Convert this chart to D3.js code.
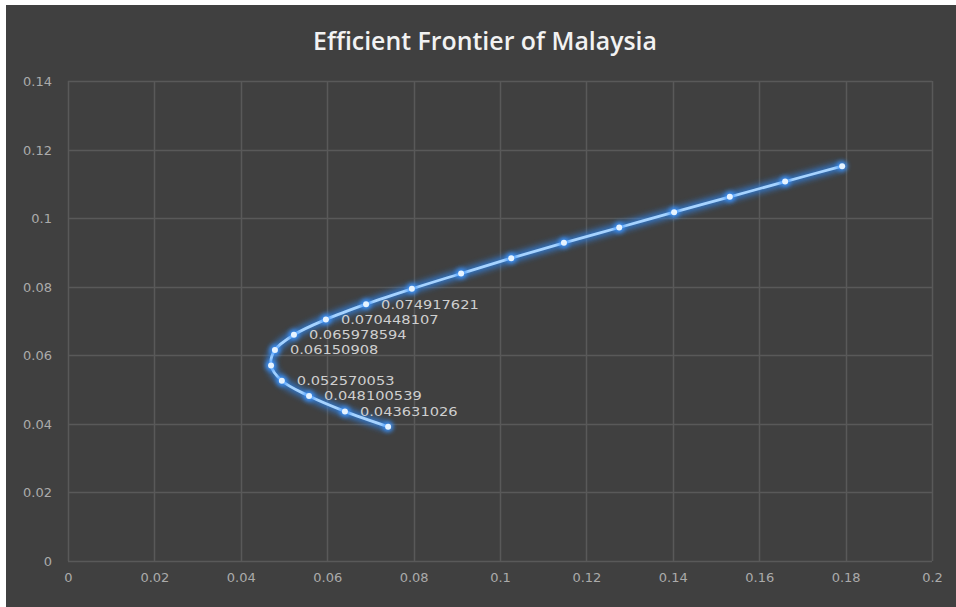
<!DOCTYPE html>
<html>
<head>
<meta charset="utf-8">
<script src="https://cdn.jsdelivr.net/npm/d3@7"></script>
<style>
  html, body { margin: 0; padding: 0; background: #ffffff; }
  svg { display: block; }
</style>
</head>
<body>
<svg id="chart" width="956" height="607"></svg>
<script>
// ---- data ----
const risk = [0.0741, 0.0641, 0.0558, 0.0495, 0.0470, 0.0479, 0.0523, 0.0597, 0.0690,
              0.0796, 0.0910, 0.1026, 0.1148, 0.1276, 0.1403, 0.1532, 0.1660, 0.1792];
const ret  = [0.039161512, 0.043631026, 0.048100539, 0.052570053, 0.057039567, 0.06150908,
              0.065978594, 0.070448107, 0.074917621, 0.079387, 0.083857, 0.088326,
              0.092796, 0.097265, 0.101735, 0.106204, 0.110674, 0.115143];
const pointLabels = [null, "0.043631026", "0.048100539", "0.052570053", null, "0.06150908",
                     "0.065978594", "0.070448107", "0.074917621",
                     null, null, null, null, null, null, null, null, null];
const xTicks = [0, 0.02, 0.04, 0.06, 0.08, 0.1, 0.12, 0.14, 0.16, 0.18, 0.2];
const yTicks = [0, 0.02, 0.04, 0.06, 0.08, 0.1, 0.12, 0.14];
const titleText = "Efficient Frontier of Malaysia";

const data = risk.map((r, i) => ({ x: r, y: ret[i], label: pointLabels[i] }));

const svg = d3.select("#chart");
const W = 956, H = 607;

// background (white border top/left like the reference)
svg.append("rect").attr("x", 0).attr("y", 0).attr("width", W).attr("height", H).attr("fill", "#ffffff");
svg.append("rect").attr("x", 6).attr("y", 5).attr("width", W - 6).attr("height", H - 5).attr("fill", "#404040");

const plot = { left: 68, right: 932, top: 81, bottom: 561 };
const x = d3.scaleLinear().domain([0, 0.2]).range([plot.left, plot.right]);
const y = d3.scaleLinear().domain([0, 0.14]).range([plot.bottom, plot.top]);

const defs = svg.append("defs");
const glow = defs.append("filter").attr("id", "glow").attr("x", "-20%").attr("y", "-20%").attr("width", "140%").attr("height", "140%");
glow.append("feGaussianBlur").attr("stdDeviation", 3);
const glowSmall = defs.append("filter").attr("id", "glowS").attr("x", "-100%").attr("y", "-100%").attr("width", "300%").attr("height", "300%");
glowSmall.append("feGaussianBlur").attr("stdDeviation", 2.2);

// gridlines
const grid = svg.append("g");
grid.selectAll("line.h").data(yTicks).join("line")
  .attr("x1", plot.left).attr("x2", plot.right)
  .attr("y1", d => Math.round(y(d)) + 0.5).attr("y2", d => Math.round(y(d)) + 0.5)
  .attr("stroke", "#595959").attr("stroke-width", 1.5);
grid.selectAll("line.v").data(xTicks).join("line")
  .attr("y1", plot.top).attr("y2", plot.bottom)
  .attr("x1", d => Math.round(x(d)) + 0.5).attr("x2", d => Math.round(x(d)) + 0.5)
  .attr("stroke", "#595959").attr("stroke-width", 1.5);

// axes (labels only, via d3 axes)
const fmt = d => d3.format("~g")(+d.toFixed(2));
const xAxis = svg.append("g").attr("transform", `translate(0,${plot.bottom + 8})`)
  .call(d3.axisBottom(x).tickValues(xTicks).tickFormat(fmt).tickSize(0).tickPadding(4));
const yAxis = svg.append("g").attr("transform", `translate(${plot.left - 16},0)`)
  .call(d3.axisLeft(y).tickValues(yTicks).tickFormat(fmt).tickSize(0).tickPadding(0));
[xAxis, yAxis].forEach(a => {
  a.select(".domain").remove();
  a.selectAll("text").attr("fill", "#ababab").style("font-family", "'DejaVu Sans', sans-serif").style("font-size", "13px");
});
yAxis.selectAll("text").attr("dy", "0.35em");

// title
svg.append("text")
  .attr("x", 485).attr("y", 50)
  .attr("text-anchor", "middle")
  .attr("fill", "#f2f2f2")
  .style("font-family", "'Open Sans', sans-serif")
  .style("font-size", "25px")
  .style("font-weight", "600")
  .attr("textLength", 344).attr("lengthAdjust", "spacingAndGlyphs")
  .text(titleText);

// line
const line = d3.line().x(d => x(d.x)).y(d => y(d.y)).curve(d3.curveCatmullRom.alpha(0.5));
svg.append("path").datum(data).attr("d", line)
  .attr("fill", "none").attr("stroke", "#2e86f0").attr("stroke-width", 8).attr("opacity", 0.8)
  .attr("filter", "url(#glow)");
svg.append("path").datum(data).attr("d", line)
  .attr("fill", "none").attr("stroke", "#a6d3ff").attr("stroke-width", 2.8);

// markers
svg.append("g").selectAll("circle").data(data).join("circle")
  .attr("cx", d => x(d.x)).attr("cy", d => y(d.y)).attr("r", 5.5)
  .attr("fill", "#3d95ff").attr("opacity", 0.85).attr("filter", "url(#glowS)");
svg.append("g").selectAll("circle").data(data).join("circle")
  .attr("cx", d => x(d.x)).attr("cy", d => y(d.y)).attr("r", 3)
  .attr("fill", "#e6f3ff");

// data labels (slightly condensed height, wide digits as in the reference)
svg.append("g").selectAll("text").data(data.filter(d => d.label)).join("text")
  .attr("x", d => x(d.x) + 15).attr("y", d => y(d.y))
  .attr("dy", "0.35em")
  .attr("fill", "#cfcfcf")
  .style("font-family", "'DejaVu Sans', sans-serif")
  .style("font-size", "12.5px")
  .each(function (d) {
    const t = d3.select(this).text(d.label);
    const w = this.getComputedTextLength();
    t.attr("textLength", w * 1.17).attr("lengthAdjust", "spacingAndGlyphs");
  });
</script>
</body>
</html>
